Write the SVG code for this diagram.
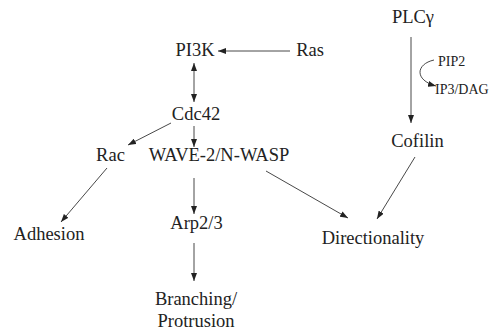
<svg xmlns="http://www.w3.org/2000/svg" width="490" height="335" viewBox="0 0 490 335">
<style>
text{font-family:"Liberation Serif","Times New Roman",serif;fill:#222;font-size:18.5px;text-anchor:middle}
text.s{font-size:14px;text-anchor:start}
.c{stroke:#333;stroke-width:0.9;fill:none;marker-end:url(#ah)}
</style>
<defs>
<marker id="ah" viewBox="0 0 8 6" refX="8" refY="3" markerWidth="8" markerHeight="6" markerUnits="userSpaceOnUse" orient="auto-start-reverse">
<path d="M0,0 L8,3 L0,6 z" fill="#222"/>
</marker>
</defs>
<rect width="490" height="335" fill="#fff"/>
<g id="connectors">
<line class="c" x1="290" y1="51" x2="218" y2="51"/>
<line class="c" x1="194" y1="63" x2="194" y2="102" style="marker-start:url(#ah)"/>
<line class="c" x1="194" y1="126" x2="194" y2="147"/>
<line class="c" x1="171" y1="123" x2="128" y2="145"/>
<line class="c" x1="107" y1="168" x2="61" y2="222"/>
<line class="c" x1="194" y1="178" x2="194" y2="214"/>
<line class="c" x1="194" y1="243" x2="194" y2="281"/>
<line class="c" x1="266" y1="171" x2="348" y2="218"/>
<line class="c" x1="415" y1="157" x2="377" y2="219"/>
<line class="c" x1="411" y1="37" x2="411" y2="123"/>
<path class="c" d="M434,60 C416,64 414,80 436,86"/>
</g>
<g id="PLCg"><text x="413" y="23">PLCγ</text></g>
<g id="PI3K"><text x="195" y="56">PI3K</text></g>
<g id="Ras"><text x="310" y="56">Ras</text></g>
<g id="PIP2"><text class="s" x="438" y="66">PIP2</text></g>
<g id="IP3DAG"><text class="s" x="435" y="94">IP3/DAG</text></g>
<g id="Cdc42"><text x="196" y="120">Cdc42</text></g>
<g id="Rac"><text x="110.5" y="161">Rac</text></g>
<g id="WAVE"><text x="219" y="161">WAVE-2/N-WASP</text></g>
<g id="Cofilin"><text x="417.5" y="147">Cofilin</text></g>
<g id="Adhesion"><text x="49" y="240">Adhesion</text></g>
<g id="Arp23"><text x="196.5" y="229">Arp2/3</text></g>
<g id="Directionality"><text x="373" y="244">Directionality</text></g>
<g id="Branching"><text x="196" y="305">Branching/</text><text x="196" y="327">Protrusion</text></g>
</svg>
